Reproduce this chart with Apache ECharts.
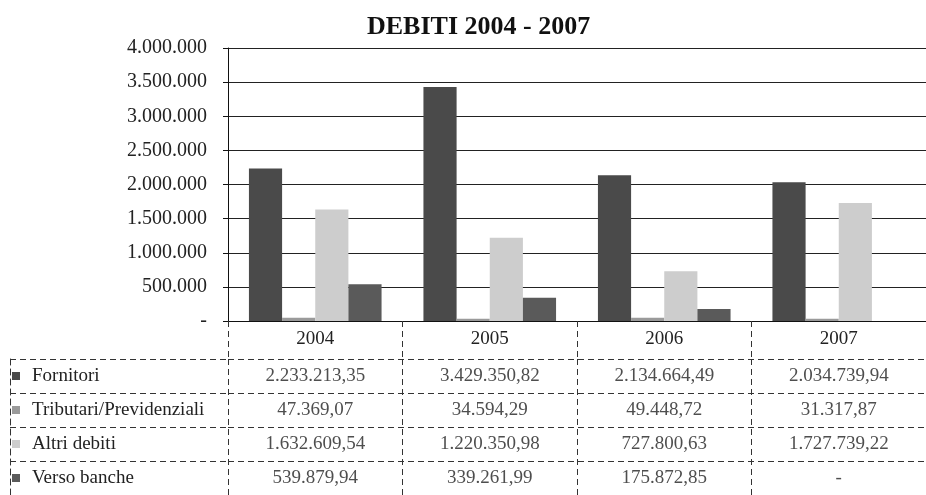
<!DOCTYPE html>
<html><head><meta charset="utf-8">
<script src="https://cdn.jsdelivr.net/npm/echarts@6/dist/echarts.min.js"></script>
<style>html,body{margin:0;padding:0;background:#fff}#c{width:926px;height:495px}</style>
</head><body><div id="c"></div>
<script>
const years = ['2004', '2005', '2006', '2007'];
const rows = ['Fornitori', 'Tributari/Previdenziali', 'Altri debiti', 'Verso banche'];
const fornitori = [2233213.35, 3429350.82, 2134664.49, 2034739.94];
const tributari = [47369.07, 34594.29, 49448.72, 31317.87];
const altri = [1632609.54, 1220350.98, 727800.63, 1727739.22];
const banche = [539879.94, 339261.99, 175872.85, null];
const yMin = 0, yMax = 4000000, yStep = 500000;

const colors = ['#4a4a4a', '#9a9a9a', '#cdcdcd', '#5a5a5a'];
const FONT = 'Liberation Serif';
const dash = [6, 4];

function fmt(v, dec) {
  if (v == null || v === 0) return '-';
  const s = v.toFixed(dec);
  let parts = s.split('.');
  let i = parts[0].replace(/\B(?=(\d{3})+(?!\d))/g, '.');
  return parts[1] ? i + ',' + parts[1] : i;
}

const seriesVals = [fornitori, tributari, altri, banche];
const cellData = [];
seriesVals.forEach((arr, r) => arr.forEach((v, c) => cellData.push([c, r, v])));

const rich = {sp: {width: 12}};
colors.forEach((c, i) => { rich['ic' + i] = {width: 8, height: 8, backgroundColor: c}; });

const chart = echarts.init(document.getElementById('c'), null, {renderer: 'canvas'});
const gridLeft = 228, gridW = 708;
chart.setOption({
  animation: false,
  backgroundColor: '#fff',
  title: {
    text: 'DEBITI 2004 - 2007', left: 362, top: 9,
    textStyle: {fontFamily: FONT, fontWeight: 'bold', fontSize: 26, color: '#111'}
  },
  grid: [
    {left: gridLeft, width: gridW, top: 48, height: 273},
    {left: gridLeft, width: gridW, top: 359, height: 140},
    {left: 10, width: 218, top: 359, height: 140}
  ],
  xAxis: [
    {
      type: 'category', data: years, gridIndex: 0,
      axisLine: {lineStyle: {color: '#111', width: 1}},
      axisTick: {show: true, length: 38, interval: 0, lineStyle: {color: '#333', type: dash}},
      axisLabel: {fontFamily: FONT, fontSize: 19, color: '#222', margin: 9},
      splitLine: {show: false}
    },
    {
      type: 'category', data: years, gridIndex: 1,
      axisLine: {show: false}, axisTick: {show: false}, axisLabel: {show: false},
      splitLine: {show: true, interval: 0, lineStyle: {color: '#333', type: dash}}
    },
    {type: 'value', gridIndex: 2, show: false}
  ],
  yAxis: [
    {
      type: 'value', gridIndex: 0, min: yMin, max: yMax, interval: yStep,
      axisLine: {show: true, lineStyle: {color: '#111'}},
      axisTick: {show: true, length: 5, lineStyle: {color: '#111'}},
      axisLabel: {fontFamily: FONT, fontSize: 20, color: '#222', margin: 21,
        formatter: v => fmt(v, 0)},
      splitLine: {show: true, lineStyle: {color: '#222', width: 1}}
    },
    {
      type: 'category', data: rows, gridIndex: 1, inverse: true,
      axisLine: {show: false}, axisTick: {show: false}, axisLabel: {show: false},
      splitLine: {show: true, interval: 0, lineStyle: {color: '#333', type: dash}}
    },
    {
      type: 'category', data: rows, gridIndex: 2, inverse: true,
      axisLine: {show: true, lineStyle: {color: '#333', type: dash}},
      axisTick: {show: false},
      axisLabel: {
        inside: true, margin: 2, align: 'left',
        formatter: (v, i) => '{ic' + i + '|}{sp|}' + v,
        rich,
        fontFamily: FONT, fontSize: 19, color: '#222'
      },
      splitLine: {show: true, interval: 0, lineStyle: {color: '#333', type: dash}}
    }
  ],
  series: [
    ...rows.map((name, i) => ({
      name, type: 'bar', xAxisIndex: 0, yAxisIndex: 0,
      data: seriesVals[i], barGap: '0%', barCategoryGap: '24%',
      itemStyle: {color: colors[i]}
    })),
    {
      type: 'scatter', xAxisIndex: 1, yAxisIndex: 1, data: cellData,
      symbolSize: 1, itemStyle: {color: 'transparent'},
      label: {show: true, position: 'inside', formatter: p => fmt(p.value[2], 2),
        fontFamily: FONT, fontSize: 19, color: '#222'}
    }
  ]
});
</script></body></html>
